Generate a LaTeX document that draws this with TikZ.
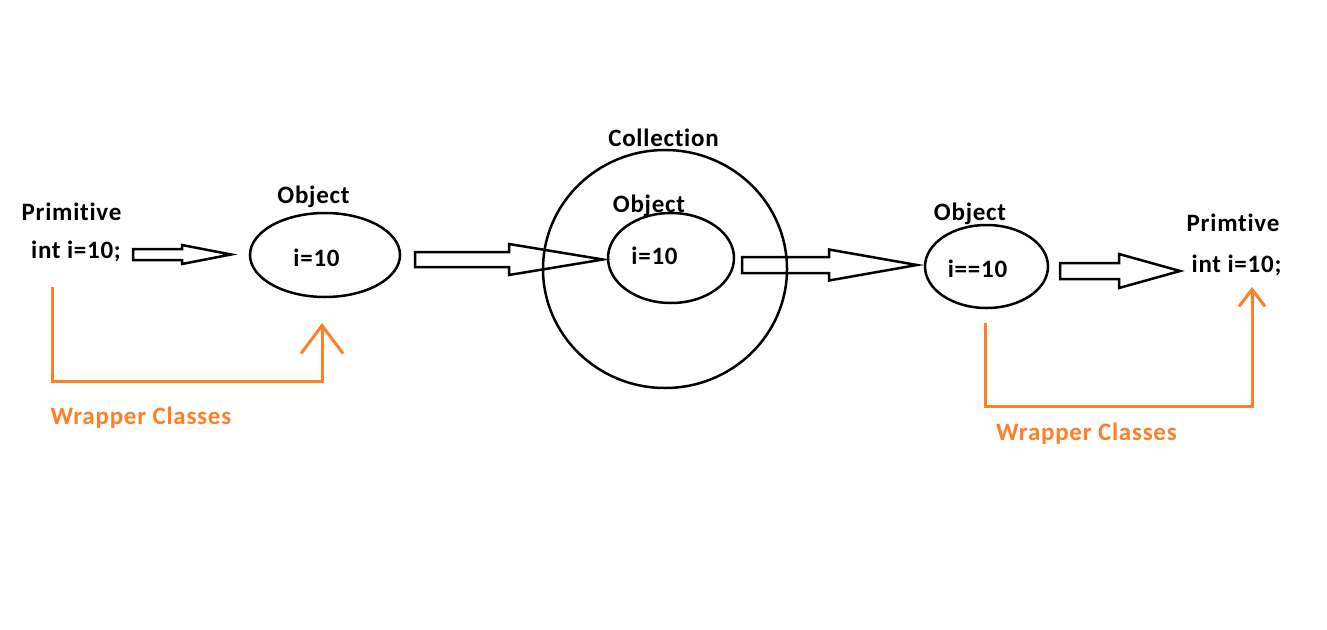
\documentclass[tikz,border=0pt]{standalone}
\usepackage{fontspec}
\setmainfont{Carlito}[LetterSpace=3,Ligatures=NoCommon]
\usetikzlibrary{arrows.meta,shapes.geometric,calc}
\definecolor{paintorange}{HTML}{FF7F27}

% hollow block arrow: start, tip, half shaft, head length, half head
\newcommand{\fatarrow}[5]{%
  \draw[fat] ($(#1)+(0,-#3)$) -- ($(#2)+(-#4,-#3)$) -- ($(#2)+(-#4,-#5)$) -- (#2)
    -- ($(#2)+(-#4,#5)$) -- ($(#2)+(-#4,#3)$) -- ($(#1)+(0,#3)$) -- cycle;}

\begin{document}
\begin{tikzpicture}[x=1pt,y=-1pt,
  txt/.style={anchor=base,inner sep=0pt,font=\bfseries\fontsize{25}{29}\selectfont},
  wraptxt/.style={txt,text=paintorange},
  obj/.style={ellipse,draw,line width=2.5pt,inner sep=0pt},
  fat/.style={draw,line width=2.5pt,line join=miter},
  wrap/.style={draw=paintorange,line width=3pt}]
  \useasboundingbox (0,0) rectangle (1327,629);

  % left primitive
  \node[txt] (prim1) at (71.5,220) {Primitive};
  \node[txt] (int1) at (76,258) {int i=10;};

  % first object
  \node[obj,minimum width=150pt,minimum height=84pt] (obj1) at (325,255) {};
  \node[txt] (objlbl1) at (313.5,203) {Object};
  \node[txt] (val1) at (316.5,266) {i=10};

  % collection
  \node[obj,minimum width=244pt,minimum height=238pt] (coll) at (665,269) {};
  \node[txt] (colllbl) at (663.5,146) {Collection};
  \node[obj,minimum width=126pt,minimum height=90pt] (obj2) at (671,258) {};
  \node[txt] (objlbl2) at (649,212) {Object};
  \node[txt] (val2) at (654.5,264) {i=10};

  % third object
  \node[obj,minimum width=123pt,minimum height=83pt] (obj3) at (986.5,266.5) {};
  \node[txt] (objlbl3) at (970,220) {Object};
  \node[txt] (val3) at (977.5,277) {i==10};

  % right primitive
  \node[txt] (prim2) at (1233,231) {Primtive};
  \node[txt] (int2) at (1236.5,272) {int i=10;};

  % block arrows
  \coordinate (a1s) at (133,254.5); \coordinate (a1e) at (231,254.5);
  \coordinate (a2s) at (415,259.5); \coordinate (a2e) at (603,259.5);
  \coordinate (a3s) at (742,265);   \coordinate (a3e) at (917,265);
  \coordinate (a4s) at (1060,271);  \coordinate (a4e) at (1180,271);
  \fatarrow{a1s}{a1e}{5.5}{49}{9.5}
  \fatarrow{a2s}{a2e}{7.5}{94}{15.5}
  \fatarrow{a3s}{a3e}{8}{88}{15.5}
  \fatarrow{a4s}{a4e}{8}{61}{17}

  % wrapper classes
  \coordinate (w1s) at (52,287);  \coordinate (w1e) at (322,323);
  \coordinate (w2s) at (985,323); \coordinate (w2e) at (1252,287);
  \draw[wrap,-{Straight Barb[length=28pt,width=42pt]}] (w1s) -- ++(0,94) -| (w1e);
  \draw[wrap,-{Straight Barb[length=17pt,width=26pt]}] (w2s) -- ++(0,83) -| (w2e);
  \node[wraptxt] (wrap1) at (141,424) {Wrapper Classes};
  \node[wraptxt] (wrap2) at (1086.5,440) {Wrapper Classes};
\end{tikzpicture}
\end{document}
